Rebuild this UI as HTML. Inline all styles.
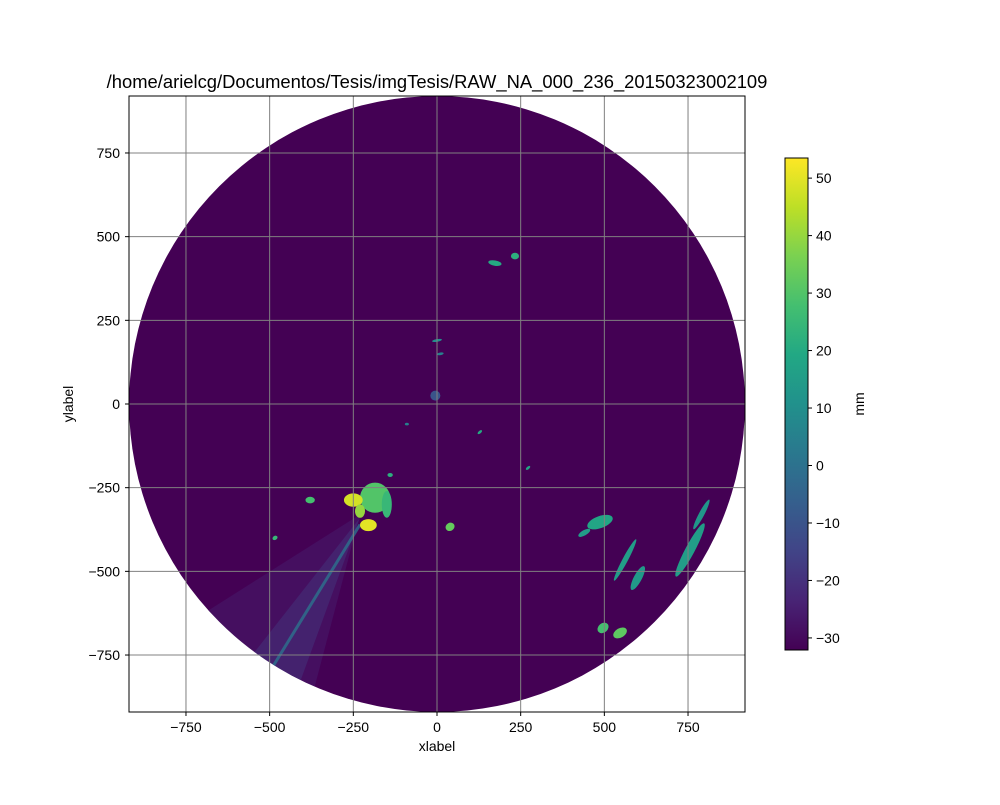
<!DOCTYPE html>
<html><head><meta charset="utf-8"><style>
body{margin:0;background:#fff;}
svg text{font-family:"Liberation Sans",sans-serif;font-size:14px;fill:#000;}
</style></head><body>
<svg id="fig" width="1000" height="800" xmlns="http://www.w3.org/2000/svg">
<defs>
<linearGradient id="vir" x1="0" y1="1" x2="0" y2="0">
<stop offset="0" stop-color="#440154"/><stop offset="0.1" stop-color="#482475"/><stop offset="0.2" stop-color="#414487"/><stop offset="0.3" stop-color="#355f8d"/><stop offset="0.4" stop-color="#2a788e"/><stop offset="0.5" stop-color="#21918c"/><stop offset="0.6" stop-color="#22a884"/><stop offset="0.7" stop-color="#44bf70"/><stop offset="0.8" stop-color="#7ad151"/><stop offset="0.9" stop-color="#bddf26"/><stop offset="1" stop-color="#fde725"/>
</linearGradient>
<clipPath id="disk"><circle cx="437" cy="404" r="308"/></clipPath>
</defs>
<text x="437" y="88" text-anchor="middle" style="font-size:18.4px">/home/arielcg/Documentos/Tesis/imgTesis/RAW_NA_000_236_20150323002109</text>
<g id="plot"></g>
<g id="cbar"></g>
</svg>
<script>
const xTicks=[-750,-500,-250,0,250,500,750];
const yTicks=[-750,-500,-250,0,250,500,750];
const cbTicks=[-30,-20,-10,0,10,20,30,40,50];
const cbMin=-32.1, cbMax=53.5;
const radius=920;
const blobX=[-185,-250,-205,-150,-230,487,440,562,600,756,790,496,547,173,233,-379,-484,39,-140,128,272,-5,-90,0,10];
const blobY=[-280,-287,-362,-300,-320,-353,-385,-466,-520,-436,-330,-669,-684,421,442,-287,-400,-367,-212,-84,-191,25,-60,190,150];
const blobRX=[45,28,25,15,15,40,20,70,40,90,50,18,22,20,12,14,6,14,8,8,8,15,6,4,4];
const blobRY=[45,20,18,40,20,18,8,8,12,14,8,14,14,8,10,10,8,12,6,4,4,15,4,15,10];
const blobRot=[0,0,0,0,0,-20,-30,-62,-62,-62,-62,-40,-30,10,0,0,60,-30,0,-40,-40,0,0,80,80];
const blobV=[30,48,50,25,40,18,15,15,14,15,13,28,32,20,22,28,25,33,22,20,18,-10,5,10,5];

const NS="http://www.w3.org/2000/svg";
const cx=437, cy=404, sc=0.3347;
const X=v=>cx+v*sc, Y=v=>cy-v*sc;
const stops=["#440154","#482475","#414487","#355f8d","#2a788e","#21918c","#22a884","#44bf70","#7ad151","#bddf26","#fde725"];
function vir(v){let t=(v-cbMin)/(cbMax-cbMin);t=Math.max(0,Math.min(1,t))*10;const i=Math.min(9,Math.floor(t)),f=t-i;
 const a=stops[i],b=stops[i+1];const p=(s,k)=>parseInt(s.substr(k,2),16);
 const c=k=>Math.round(p(a,k)+(p(b,k)-p(a,k))*f);return `rgb(${c(1)},${c(3)},${c(5)})`;}
function el(t,a,parent){const e=document.createElementNS(NS,t);for(const k in a)e.setAttribute(k,a[k]);parent.appendChild(e);return e;}
const plot=document.getElementById('plot');
const disk=el('circle',{cx:X(0),cy:Y(0),r:radius*sc,fill:vir(-32)},plot);


const g=el('g',{'clip-path':'url(#disk)'},plot);
const wedge=el('polygon',{points:`${X(-230)},${Y(-330)} ${X(-720)},${Y(-640)} ${X(-380)},${Y(-900)}`,fill:vir(-22),opacity:0.35},g);


const wedge2=el('polygon',{points:`${X(-230)},${Y(-340)} ${X(-560)},${Y(-760)} ${X(-420)},${Y(-860)}`,fill:vir(-18),opacity:0.45},g);


const bline=el('line',{x1:X(-230),y1:Y(-360),x2:X(-500),y2:Y(-800),stroke:vir(0),'stroke-width':3,opacity:0.8},g);


for(let i=0;i<blobX.length;i++){
 const e=el('ellipse',{cx:X(blobX[i]),cy:Y(blobY[i]),rx:blobRX[i]*sc,ry:blobRY[i]*sc,fill:vir(blobV[i]),transform:`rotate(${blobRot[i]} ${X(blobX[i])} ${Y(blobY[i])})`},g);
 
 
}
xTicks.forEach(t=>{const l=el('line',{x1:X(t),x2:X(t),y1:96,y2:712,stroke:'#808080','stroke-width':1},plot);
 
 el('line',{x1:X(t),x2:X(t),y1:712,y2:716,stroke:'#000'},plot);
 const tx=el('text',{x:X(t),y:732,'text-anchor':'middle'},plot);tx.textContent=t<0?'\u2212'+(-t):t;
 });
yTicks.forEach(t=>{const l=el('line',{y1:Y(t),y2:Y(t),x1:129,x2:745,stroke:'#808080','stroke-width':1},plot);
 
 el('line',{y1:Y(t),y2:Y(t),x1:125,x2:129,stroke:'#000'},plot);
 const tx=el('text',{x:120,y:Y(t)+5,'text-anchor':'end'},plot);tx.textContent=t<0?'\u2212'+(-t):t;
 });
el('rect',{x:129,y:96,width:616,height:616,fill:'none',stroke:'#000','stroke-width':1},plot);
const xl=el('text',{x:437,y:751,'text-anchor':'middle'},plot);xl.textContent='xlabel';

const yl=el('text',{x:73,y:404,'text-anchor':'middle',transform:'rotate(-90 73 404)'},plot);yl.textContent='ylabel';

const cb=document.getElementById('cbar');
const cbTop=158,cbBot=650,CY=v=>cbBot-(v-cbMin)/(cbMax-cbMin)*(cbBot-cbTop);
el('rect',{x:785,y:cbTop,width:23,height:cbBot-cbTop,fill:'url(#vir)',stroke:'#000','stroke-width':1},cb);
cbTicks.forEach(t=>{el('line',{x1:808,x2:812,y1:CY(t),y2:CY(t),stroke:'#000'},cb);
 const tx=el('text',{x:816,y:CY(t)+5},cb);tx.textContent=t<0?'\u2212'+(-t):t;
 });
const cl=el('text',{x:864,y:404,'text-anchor':'middle',transform:'rotate(-90 864 404)'},cb);cl.textContent='mm';

</script>
</body></html>
